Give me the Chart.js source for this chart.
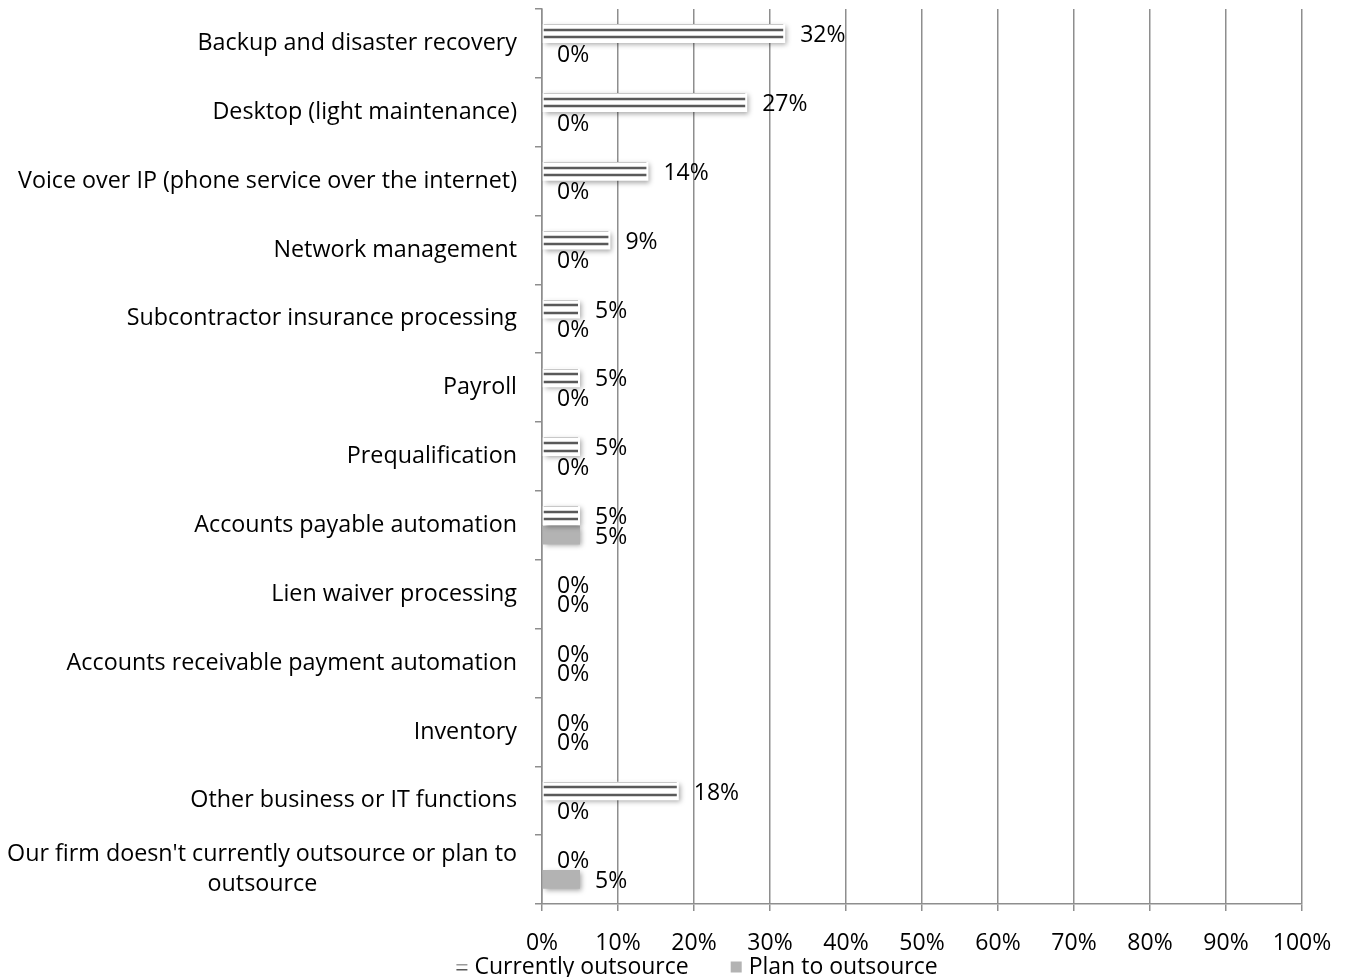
<!DOCTYPE html>
<html>
<head>
<meta charset="utf-8">
<script src="https://cdn.jsdelivr.net/npm/chart.js@4"></script>
<style>
  html, body { margin: 0; padding: 0; background: #ffffff; }
  #wrap { width: 1349px; height: 977px; }
</style>
</head>
<body>
<div id="wrap"><canvas id="c" width="1349" height="977"></canvas></div>
<script>
const categories = [
  "Backup and disaster recovery",
  "Desktop (light maintenance)",
  "Voice over IP (phone service over the internet)",
  "Network management",
  "Subcontractor insurance processing",
  "Payroll",
  "Prequalification",
  "Accounts payable automation",
  "Lien waiver processing",
  "Accounts receivable payment automation",
  "Inventory",
  "Other business or IT functions",
  ["Our firm doesn't currently outsource or plan to", "outsource"]
];
const currentOutsource = [32, 27, 14, 9, 5, 5, 5, 5, 0, 0, 0, 18, 0];
const planToOutsource  = [0, 0, 0, 0, 0, 0, 0, 5, 0, 0, 0, 0, 5];
const seriesNames = ["Currently outsource", "Plan to outsource"];
const xTickValues = [0, 10, 20, 30, 40, 50, 60, 70, 80, 90, 100];

const FONT = "'Open Sans', sans-serif";
const Y_FONT_SIZE = 23.3;
const GRID = '#8e8e8e';
const STRIPE = '#595959';
const GRAY = '#b3b3b3';

// centre the lines of a multi-line category label (they are right-aligned by default)
const measureCtx = document.createElement('canvas').getContext('2d');
measureCtx.font = Y_FONT_SIZE + 'px ' + FONT;
function centreLines(label) {
  if (!Array.isArray(label)) return label;
  const widths = label.map(s => measureCtx.measureText(s).width);
  const maxW = Math.max(...widths);
  const sp = measureCtx.measureText('\u00A0').width;
  return label.map((s, i) => s + '\u00A0'.repeat(Math.max(0, Math.round((maxW - widths[i]) / 2 / sp))));
}

const shadowPlugin = {
  id: 'barShadow',
  beforeDatasetsDraw(chart) {
    const ctx = chart.ctx;
    ctx.save();
    ctx.shadowColor = 'rgba(0,0,0,0.35)';
    ctx.shadowBlur = 5;
    ctx.shadowOffsetX = 2;
    ctx.shadowOffsetY = 2;
  },
  afterDatasetsDraw(chart) {
    const ctx = chart.ctx;
    ctx.restore();
    const meta = chart.getDatasetMeta(0);
    ctx.save();
    meta.data.forEach((el, i) => {
      if (!currentOutsource[i]) return;
      const h = el.height;
      const x0 = Math.min(el.base, el.x) + 1, x1 = Math.max(el.base, el.x) - 2;
      ctx.strokeStyle = '#c8c8c8';
      ctx.lineWidth = 1;
      const yt = Math.round(el.y - h / 2) + 0.5;
      ctx.beginPath(); ctx.moveTo(x0, yt); ctx.lineTo(x1, yt); ctx.stroke();
      ctx.strokeStyle = STRIPE;
      ctx.lineWidth = 2.4;
      [-0.2, 0.2].forEach(f => {
        const y = Math.round(el.y + f * h);
        ctx.beginPath();
        ctx.moveTo(x0, y);
        ctx.lineTo(x1, y);
        ctx.stroke();
      });
    });
    ctx.restore();
    ctx.save();
    ctx.font = '23px ' + FONT;
    ctx.fillStyle = '#000';
    ctx.textAlign = 'left';
    ctx.textBaseline = 'middle';
    chart.data.datasets.forEach((ds, di) => {
      const m = chart.getDatasetMeta(di);
      m.data.forEach((el, i) => {
        ctx.fillText(ds.data[i] + '%', el.x + 15, el.y + 2);
      });
    });
    ctx.restore();
  }
};

const legendPlugin = {
  id: 'customLegend',
  afterDraw(chart) {
    const ctx = chart.ctx;
    ctx.save();
    ctx.font = '23px ' + FONT;
    ctx.fillStyle = '#000';
    ctx.textBaseline = 'middle';
    ctx.textAlign = 'left';
    const y = chart.scales.x.bottom + 15;
    const box = 11, gapBox = 7, gapItems = 42;
    const names = chart.data.datasets.map(d => d.label);
    const widths = names.map(n => ctx.measureText(n).width);
    const total = widths.reduce((a, b) => a + b, 0) + 2 * (box + gapBox) + gapItems;
    let x = 697 - total / 2;
    names.forEach((n, i) => {
      if (i === 0) {
        ctx.fillStyle = '#fff';
        ctx.fillRect(x, y - box / 2, box, box);
        ctx.fillStyle = '#9a9a9a';
        ctx.fillRect(x, y - 3, box, 1.5);
        ctx.fillStyle = STRIPE;
        ctx.fillRect(x, y + 2, box, 1.5);
      } else {
        ctx.fillStyle = GRAY;
        ctx.fillRect(x, y - box / 2, box, box);
      }
      x += box + gapBox;
      ctx.fillStyle = '#000';
      ctx.fillText(n, x, y);
      x += widths[i] + gapItems;
    });
    ctx.restore();
  }
};

new Chart(document.getElementById('c'), {
  type: 'bar',
  data: {
    labels: categories.map(centreLines),
    datasets: [
      { label: seriesNames[0], data: currentOutsource, backgroundColor: '#ffffff', borderWidth: 0,
        categoryPercentage: 0.565, barPercentage: 0.96 },
      { label: seriesNames[1], data: planToOutsource, backgroundColor: GRAY, borderWidth: 0,
        categoryPercentage: 0.565, barPercentage: 0.96 }
    ]
  },
  options: {
    indexAxis: 'y',
    responsive: false,
    animation: false,
    devicePixelRatio: 1,
    layout: { padding: { left: 0, right: 47, top: 9, bottom: 25 } },
    plugins: { legend: { display: false }, tooltip: { enabled: false } },
    scales: {
      x: {
        min: 0, max: 100,
        afterBuildTicks(scale) { scale.ticks = xTickValues.map(v => ({ value: v })); },
        afterFit(scale) { scale.height = 48; scale.paddingLeft = 0; scale.paddingRight = 0; },
        ticks: { callback: v => v + '%', color: '#000', font: { family: FONT, size: 23 }, padding: 19, maxRotation: 0 },
        grid: { color: GRID, lineWidth: 1.5, tickLength: 7, drawTicks: true },
        border: { color: GRID, width: 1.5 }
      },
      y: {
        afterFit(scale) { scale.width = 542; scale.paddingTop = 0; scale.paddingBottom = 0; },
        ticks: { color: '#000', font: { family: FONT, size: Y_FONT_SIZE, lineHeight: 1.3 }, padding: 18, autoSkip: false },
        grid: { color: GRID, lineWidth: 1.5, drawOnChartArea: false, tickLength: 7, offset: true },
        border: { color: GRID, width: 1.5 }
      }
    }
  },
  plugins: [shadowPlugin, legendPlugin]
});
</script>
</body>
</html>
